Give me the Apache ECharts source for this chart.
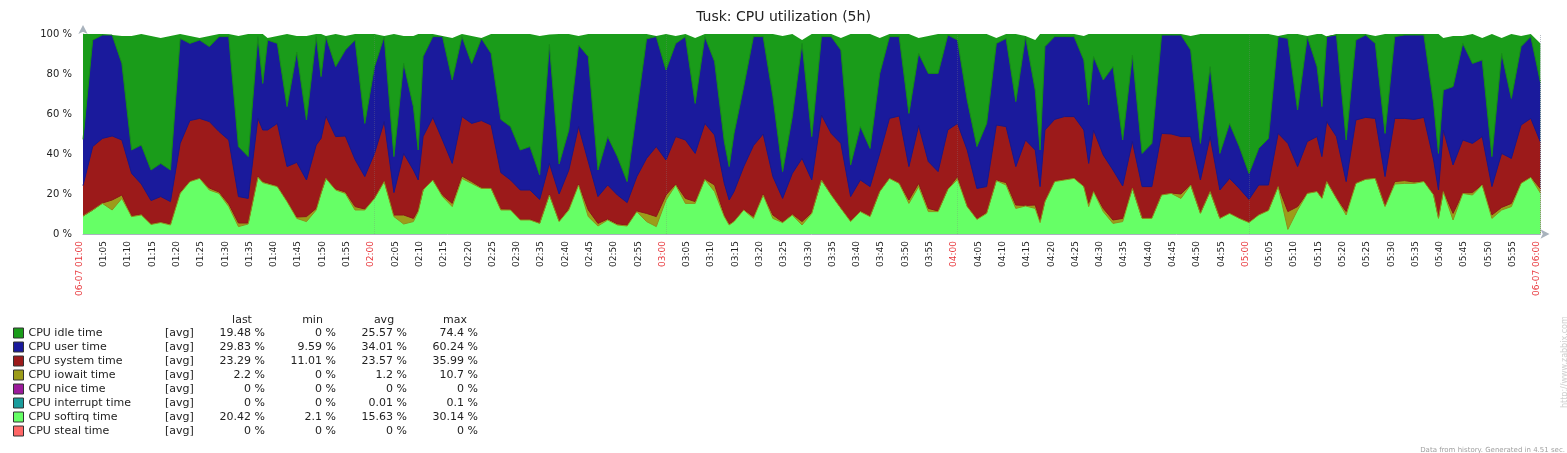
<!DOCTYPE html>
<html>
<head>
<meta charset="utf-8">
<title>Tusk: CPU utilization (5h)</title>
<script src="https://cdn.jsdelivr.net/npm/echarts@6/dist/echarts.min.js"></script>
<style>
  html, body { margin: 0; padding: 0; background: #fff; }
  #chart { width: 1567px; height: 453px; }
</style>
</head>
<body>
<div id="chart"></div>
<script>
// minutes after 06-07 01:00 (every 2 min, plus a few extra points on narrow spikes)
const sampleMinutes = [
  0, 2, 4, 6, 8, 10, 12, 14, 16, 18,
  20, 22, 24, 26, 28, 30, 32, 34, 36, 37, 38,
  40, 42, 44, 46, 48, 49, 50, 52, 54, 56, 58,
  60, 62, 64, 66, 68, 69, 70, 72, 74, 76, 78,
  80, 82, 84, 86, 88, 90, 92, 94, 96, 98,
  100, 102, 104, 106, 108, 110, 112, 114, 116, 118,
  120, 122, 124, 126, 128, 130, 132, 133, 134, 136, 138,
  140, 142, 144, 146, 148, 150, 152, 154, 156, 158,
  160, 162, 164, 166, 168, 170, 172, 174, 176, 178,
  180, 182, 184, 186, 188, 190, 192, 194, 196, 197, 198,
  200, 202, 204, 206, 207, 208, 210, 212, 214, 216, 218,
  220, 222, 224, 226, 228, 230, 232, 234, 236, 238,
  240, 242, 244, 246, 248, 250, 252, 254, 255, 256, 258,
  260, 262, 264, 266, 268, 270, 272, 274, 276, 278, 279,
  280, 282, 284, 286, 288, 290, 292, 294, 296, 298,
  300
];

const softirqTime = [
  9, 12, 15.3, 12, 17.8, 8.7, 9.5, 4.8, 5.7, 4.5,
  20.3, 26.2, 27.8, 22, 20.3, 13.7, 3.7, 5, 28.3, 25.7, 25,
  23.7, 16.2, 7.8, 6.2, 12, 20.3, 27.8, 22, 20.3, 12, 12,
  17.8, 26.2, 8.7, 5, 6.2, 11.2, 22, 27, 18.7, 13.7, 27.8,
  25.3, 22.8, 22.8, 12, 12, 7, 7, 5.3, 19.5, 6.2,
  12, 24.5, 8.7, 4, 7, 4.5, 4, 11.2, 6.2, 3.7,
  17, 24.5, 15.3, 15.3, 27.3, 21.2, 8.7, 4.5, 6.2, 12, 7.8,
  19.5, 7.8, 5.7, 9.5, 4.5, 10.3, 27, 19.5, 12.8, 6.2,
  11.2, 8.7, 21.2, 27.8, 25.3, 15.3, 23.7, 11.2, 11.2, 22.3,
  27.3, 13.7, 7.3, 10.3, 26.7, 24.5, 12.8, 14, 12.8, 5.7, 16.2,
  26.2, 27, 27.8, 23.7, 13.7, 21.2, 11.2, 5.3, 6.2, 22.8, 7.8,
  7.8, 19.5, 20.3, 17.8, 24.5, 10.3, 21.2, 7.8, 10.3, 7.8,
  5.7, 9.5, 11.7, 23.7, 2.3, 12, 20.3, 21.2, 17.8, 26.2, 17.8,
  9.5, 25.3, 27.3, 27.8, 13.7, 25, 25.3, 25.3, 26.2, 19.5, 7.8,
  21.2, 7, 20.3, 19.5, 24.5, 7.8, 12, 13.7, 25.3, 28.3,
  20.42
];

const iowaitTime = [
  0, 0, 0.2, 5, 1.7, 0.3, 0.5, 0.2, 0.3, 0.5,
  0.7, 0.3, 0.2, 1, 0.7, 1.3, 1.8, 0.5, 0.7, 0.5, 0.5,
  0.3, 0.3, 0.7, 2.5, 0.8, 0.3, 0, 0.5, 0.7, 1.7, 0.5,
  0.2, 0.3, 0.8, 4.5, 1.6, 0.8, 0, 0, 0.8, 1.6, 1.2,
  0.9, 0.4, 0.2, 0.5, 0.3, 0.3, 0.3, 0.2, 0.3, 0.3,
  0.8, 0.5, 3.3, 1.3, 0.5, 0.5, 0.5, 0.3, 4.1, 5,
  2.5, 0.5, 2.5, 0.9, 0.2, 3.3, 0.8, 0.5, 0.3, 0.3, 0.9,
  0.3, 1.7, 0.3, 0.5, 1.7, 0.5, 0, 0.3, 0.2, 0.5,
  0.3, 0.3, 0.3, 0.2, 0.2, 1.7, 1.6, 1.6, 0.3, 0.2,
  1.4, 0.3, 0.3, 0.5, 0.3, 1.2, 1.7, 0.3, 1.7, 0.8, 0.3,
  0.3, 0.3, 0.2, 0.3, 1.6, 0.3, 1.6, 1.7, 1.6, 0.2, 0.2,
  0.4, 0.2, 0.2, 2.2, 0.2, 0.2, 0.2, 0.2, 0.2, 0.2,
  0.3, 0.2, 0.3, 0.3, 8.9, 1.7, 0.2, 0.2, 0.2, 0.3, 0.2,
  1.7, 0.2, 0.2, 0.2, 0.3, 1.2, 1.4, 0.7, 0.3, 0.3, 0.5,
  0.3, 3.3, 0.2, 1.2, 0.3, 1.7, 1.3, 1.6, 0.4, 0.3,
  2.2
];

const systemTime = [
  15.2, 31.7, 32.3, 32, 27.5, 21.3, 15, 11.7, 12.7, 11.2,
  24.3, 30.2, 29.8, 33.2, 30.2, 32, 13.2, 12.3, 28.8, 25.8, 26.5,
  31.3, 17.2, 27.3, 18.3, 31.7, 27.2, 31.2, 26.2, 28, 23.5, 16.2,
  22.3, 29.7, 11.2, 30.8, 24.2, 15, 26.7, 31.3, 27.5, 20, 29.7,
  29.1, 33.5, 31.5, 18.2, 14.7, 14.7, 14.7, 11.8, 15.5, 13.5,
  19.2, 28.7, 24.2, 13.4, 17, 14.5, 11.2, 17.2, 27.5, 35,
  17.5, 23.7, 29.2, 24.1, 27.8, 25, 15.8, 12, 14.7, 21.4, 35.5,
  30.2, 19.2, 11.8, 20.3, 31.6, 16.2, 32.5, 30.5, 32.3, 12,
  15.5, 14.7, 18.8, 29.8, 33.5, 16.7, 28.9, 23.4, 19.7, 29.5,
  26.6, 28, 15.2, 12.9, 27.5, 28, 19.2, 32.7, 27.5, 17.2, 35.5,
  30.8, 31.4, 30.7, 28, 20, 30.5, 26.7, 25, 16.2, 23.2, 15.7,
  15.5, 30.6, 29.5, 28.7, 24, 16.5, 27.3, 14, 17.3, 14.8,
  11.3, 14.8, 12.5, 26.3, 34.1, 20, 25.7, 27.3, 20.7, 29.7, 30.7,
  15, 31.5, 30.8, 29.8, 14.7, 31.6, 31.1, 31.3, 31.8, 17.2, 13.7,
  30.5, 24.2, 26.5, 24.6, 23.9, 14.2, 27, 22.5, 28.8, 29.2,
  23.29
];

const userTime = [
  23.1, 53.3, 51.7, 50.5, 38.3, 11.7, 19.5, 15.3, 16.6, 15.8,
  52.5, 38.6, 39.2, 37.5, 47.5, 51.7, 25, 20.9, 40.9, 23.3, 45,
  40, 30, 55.2, 30, 54.2, 30.9, 39.7, 35, 43, 59.8, 26.6,
  43.4, 42.5, 18, 45, 31.7, 15, 40, 40.4, 51.7, 41.7, 40,
  30, 41.1, 35.8, 26.6, 26.7, 20, 21.7, 12.2, 59.5, 15,
  20, 40.8, 52.5, 13.3, 24.2, 19.2, 10.5, 33.3, 59.8, 55,
  45, 46.6, 51.7, 25, 43.4, 36.7, 20.9, 16.7, 29.1, 40, 54.5,
  48.7, 40, 13.4, 28.4, 57.5, 21.7, 39.2, 48.4, 46.7, 15.8,
  26.7, 19.1, 40, 40.9, 39.7, 26.6, 36.1, 44.1, 49.1, 47.5,
  41.7, 25, 20.9, 31.6, 40.8, 44.1, 32.5, 51.7, 30, 18.3, 41.7,
  41.4, 40, 40, 35, 29.2, 36.7, 37.5, 51.7, 23, 43.3, 16.6,
  21.6, 49.2, 49.5, 50.8, 43.3, 18.3, 35, 18.3, 27.5, 20.9,
  13, 18.3, 23.3, 48.4, 52.5, 28.3, 52.5, 35, 25, 42.5, 50.8,
  20.8, 40, 41.2, 37.5, 21.6, 40.9, 41.7, 42.2, 41.2, 28.3, 18.3,
  20, 39.2, 48.3, 40, 38.3, 15, 50, 30, 39.2, 40.9,
  29.83
];

const idleTime = [
  52.7, 3, 0.5, 0, 13.7, 57, 55.5, 67, 62.7, 67,
  2.2, 3.7, 1, 5.3, 1.3, 1.3, 55.3, 61.3, 1.3, 24.7, 1,
  3.7, 36.3, 8, 42, 1.3, 21.3, 0.3, 16.3, 7, 3, 44.7,
  16.3, 0.3, 61.3, 13.7, 35.3, 58, 11.3, 1.3, 0.3, 21, 1.3,
  13.7, 0.2, 9.7, 42.7, 46.3, 58, 56.3, 69.5, 5, 65,
  48, 4.5, 11.3, 68, 51.3, 61.3, 73.8, 38, 2.4, 0.3,
  18, 3.7, 1.3, 32.7, 1.3, 13.8, 53.8, 66.3, 49.7, 26.3, 1.3,
  1.3, 31.3, 67.8, 41.3, 1.7, 51.3, 1.3, 1.3, 6, 65.5,
  46.3, 57.2, 17.7, 1.3, 1.3, 39.7, 7.7, 18.7, 19.7, 0.5,
  3, 33, 56.3, 44.7, 2.7, 2.2, 33.8, 0.3, 25, 58, 6.3,
  1.3, 1.3, 1.3, 12, 35.5, 11.3, 23, 16.3, 53, 10.5, 59.7,
  54.7, 0.5, 0.5, 0.5, 7, 54.7, 16.3, 59.7, 44.7, 56.3,
  69.7, 57.2, 52.2, 0.3, 2.2, 38, 0.3, 16.3, 36.3, 0, 0.5,
  53, 3, 0.5, 3.7, 49.7, 1.3, 0.5, 0.5, 0.5, 34.7, 59.7,
  26, 25.3, 3.7, 14.7, 11, 61.3, 7.7, 32.2, 5.3, 1.3,
  19.48
];

// these three stay at 0 % the whole time
const niceTime = [];
const interruptTime = [];
const stealTime = [];

const xLabels = [
  '06-07 01:00', '01:05', '01:10', '01:15', '01:20', '01:25', '01:30', '01:35', '01:40', '01:45', '01:50', '01:55',
  '02:00', '02:05', '02:10', '02:15', '02:20', '02:25', '02:30', '02:35', '02:40', '02:45', '02:50', '02:55',
  '03:00', '03:05', '03:10', '03:15', '03:20', '03:25', '03:30', '03:35', '03:40', '03:45', '03:50', '03:55',
  '04:00', '04:05', '04:10', '04:15', '04:20', '04:25', '04:30', '04:35', '04:40', '04:45', '04:50', '04:55',
  '05:00', '05:05', '05:10', '05:15', '05:20', '05:25', '05:30', '05:35', '05:40', '05:45', '05:50', '05:55',
  '06-07 06:00'
];
const hourMarks = [60, 120, 180, 240];

const legendOrder = ['CPU idle time', 'CPU user time', 'CPU system time', 'CPU iowait time',
  'CPU nice time', 'CPU interrupt time', 'CPU softirq time', 'CPU steal time'];
const statHeaders = ['last', 'min', 'avg', 'max'];
const statLast = ['19.48 %', '29.83 %', '23.29 %', '2.2 %', '0 %', '0 %', '20.42 %', '0 %'];
const statMin = ['0 %', '9.59 %', '11.01 %', '0 %', '0 %', '0 %', '2.1 %', '0 %'];
const statAvg = ['25.57 %', '34.01 %', '23.57 %', '1.2 %', '0 %', '0.01 %', '15.63 %', '0 %'];
const statMax = ['74.4 %', '60.24 %', '35.99 %', '10.7 %', '0 %', '0.1 %', '30.14 %', '0 %'];

const FONT = 'DejaVu Sans';
const RED = '#e8383d';

// stacking order, bottom first
const layers = [
  { name: 'CPU softirq time', values: softirqTime, fill: '#66ff66', edge: '#8f8f1c' },
  { name: 'CPU iowait time', values: iowaitTime, fill: '#9c9c1a', edge: '#8c1717' },
  { name: 'CPU system time', values: systemTime, fill: '#9c1a1a', edge: '#17178c' },
  { name: 'CPU user time', values: userTime, fill: '#1a1a9c', edge: '#178c17' },
  { name: 'CPU idle time', values: idleTime, fill: '#1a9c1a', edge: null },
  { name: 'CPU nice time', values: niceTime, fill: '#9c1a9c', edge: null },
  { name: 'CPU interrupt time', values: interruptTime, fill: '#1a9c9c', edge: null },
  { name: 'CPU steal time', values: stealTime, fill: '#ff6666', edge: null }
];

// running totals: each layer is drawn from its stacked top down to 0,
// upper layers first so the lower ones paint over them
let running = sampleMinutes.map(function () { return 0; });
layers.forEach(function (l) {
  running = running.map(function (r, i) { return r + (l.values[i] || 0); });
  l.tops = l.values.length ? running.slice() : [];
});

const series = layers.slice().reverse().map(function (l) {
  const s = {
    name: l.name,
    type: 'line',
    symbol: 'none',
    smooth: false,
    data: l.tops.map(function (v, i) { return [sampleMinutes[i], v]; }),
    itemStyle: { color: l.fill },
    areaStyle: { color: l.fill, opacity: 1 },
    lineStyle: l.edge ? { color: l.edge, width: 1 } : { width: 0, opacity: 0 },
    emphasis: { disabled: true },
    z: 2
  };
  if (l.name === 'CPU softirq time') {
    s.markLine = {
      silent: true,
      symbol: 'none',
      animation: false,
      label: { show: false },
      lineStyle: { type: 'dotted', color: 'rgba(128,128,128,0.3)', width: 1 },
      data: hourMarks.map(function (m) { return { xAxis: m }; }).concat([
        { xAxis: 300, lineStyle: { type: 'dotted', color: '#b8bec6', width: 1 } }
      ])
    };
  }
  return s;
});

const graphics = [];
const statCols = [statLast, statMin, statAvg, statMax];
const colRight = [265, 336, 407, 478];
const headCenter = [242, 312.5, 384, 455];
function txt(x, y, text, align, size, color) {
  return { type: 'text', x: x, y: y,
    style: { text: text, fill: color || '#222', font: (size || 11) + 'px "' + FONT + '"',
      align: align, verticalAlign: 'middle', textAlign: align, textVerticalAlign: 'middle' } };
}
statHeaders.forEach(function (h, c) { graphics.push(txt(headCenter[c], 320, h, 'center')); });
legendOrder.forEach(function (name, r) {
  const y = 333 + 14 * r;
  graphics.push(txt(165, y, '[avg]', 'left'));
  statCols.forEach(function (col, c) { graphics.push(txt(colRight[c], y, col[r], 'right')); });
});
graphics.push(txt(1565, 450, 'Data from history. Generated in 4.51 sec.', 'right', 7, '#a0a0a0'));
const url = txt(1565, 408, 'http://www.zabbix.com', 'left', 8, '#cfcfcf');
url.rotation = Math.PI / 2;
graphics.push(url);

const chart = echarts.init(document.getElementById('chart'), null, { renderer: 'canvas' });
chart.setOption({
  animation: false,
  backgroundColor: '#ffffff',
  textStyle: { fontFamily: FONT },
  title: {
    text: 'Tusk: CPU utilization (5h)',
    left: 'center',
    top: 10,
    padding: 0,
    textStyle: { fontSize: 14, fontWeight: 'normal', color: '#222', fontFamily: FONT }
  },
  grid: { left: 83, right: 26.5, top: 34, height: 200, containLabel: false },
  xAxis: {
    type: 'value',
    min: 0,
    max: 300,
    interval: 5,
    axisLine: { show: true, onZero: false, lineStyle: { color: '#a9b3bd', width: 1 },
      symbol: ['none', 'arrow'], symbolSize: [7, 9], symbolOffset: [0, 9] },
    axisTick: { show: false },
    splitLine: { show: false },
    axisLabel: {
      rotate: 90,
      margin: 7,
      fontSize: 9,
      color: '#222',
      fontFamily: FONT,
      padding: [0, 0, 7, 0],
      showMinLabel: true,
      showMaxLabel: true,
      formatter: function (v) {
        const s = xLabels[Math.round(v / 5)] || '';
        return s.indexOf(':00') > 0 ? '{h|' + s + '}' : s;
      },
      rich: { h: { color: RED, fontSize: 9, fontFamily: FONT } }
    }
  },
  yAxis: {
    type: 'value',
    min: 0,
    max: 100,
    interval: 20,
    axisLine: { show: true, lineStyle: { color: '#a9b3bd', width: 1 },
      symbol: ['none', 'arrow'], symbolSize: [7, 9], symbolOffset: [0, 9] },
    axisTick: { show: false },
    splitLine: { show: false },
    axisLabel: { formatter: '{value} %', fontSize: 10, color: '#222', margin: 11, fontFamily: FONT }
  },
  legend: {
    orient: 'vertical',
    left: 13,
    top: 326,
    padding: 0,
    itemGap: 0,
    itemWidth: 10,
    itemHeight: 10,
    icon: 'rect',
    selectedMode: false,
    itemStyle: { borderColor: '#333', borderWidth: 1 },
    textStyle: { fontSize: 11, color: '#222', fontFamily: FONT, lineHeight: 14 },
    data: legendOrder
  },
  graphic: graphics,
  series: series
});
</script>
</body>
</html>
